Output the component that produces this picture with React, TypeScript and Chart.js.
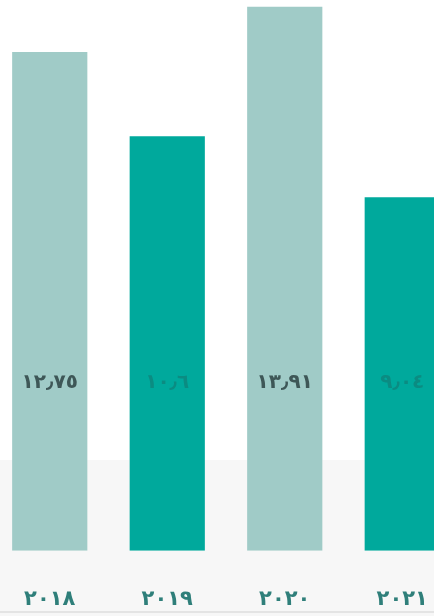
import React, { useEffect, useRef } from "react";
import { Chart, registerables } from "chart.js";

Chart.register(...registerables);

const categories = ["٢٠١٨", "٢٠١٩", "٢٠٢٠", "٢٠٢١"];
const values = [12.75, 10.6, 13.91, 9.04];
const valueLabels = ["١٢٫٧٥", "١٠٫٦", "١٣٫٩١", "٩٫٠٤"];
const barColors = ["#a0cbc7", "#00a99c", "#a0cbc7", "#00a99c"];
const labelColors = ["#3e5757", "#0b8c82", "#3e5757", "#0b8c82"];
const labelLevel = 4.3;

const valueLabelPlugin = {
  id: "valueLabels",
  afterDatasetsDraw(chart: any) {
    const ctx = chart.ctx;
    const meta = chart.getDatasetMeta(0);
    const yScale = chart.scales.y;
    ctx.save();
    ctx.font = "bold 20px 'DejaVu Sans', sans-serif";
    ctx.textAlign = "center";
    ctx.textBaseline = "middle";
    meta.data.forEach((bar: any, i: number) => {
      ctx.fillStyle = labelColors[i];
      ctx.fillText(valueLabels[i], bar.x, yScale.getPixelForValue(labelLevel));
    });
    ctx.restore();
  },
};

export default function App() {
  const ref = useRef<HTMLCanvasElement | null>(null);
  useEffect(() => {
    if (!ref.current) return;
    const chart = new Chart(ref.current, {
      type: "bar",
      data: {
        labels: categories,
        datasets: [
          {
            data: values,
            backgroundColor: barColors,
            borderWidth: 0,
            barPercentage: 0.8,
            categoryPercentage: 0.8,
          },
        ],
      },
      options: {
        animation: false,
        responsive: true,
        maintainAspectRatio: false,
        layout: { padding: 0 },
        plugins: { legend: { display: false }, tooltip: { enabled: false } },
        scales: {
          x: {
            grid: { display: false },
            border: { display: false },
            ticks: {
              color: "#2f7f7a",
              font: { size: 21, weight: "bold", family: "'DejaVu Sans', sans-serif" },
              padding: 28,
              maxRotation: 0,
              autoSkip: false,
            },
          },
          y: { display: false, min: 0, max: 14.08 },
        },
      },
      plugins: [valueLabelPlugin],
    });
    return () => chart.destroy();
  }, []);

  return (
    <div
      style={{
        position: "fixed",
        left: 0,
        top: 0,
        width: 434,
        height: 616,
        overflow: "hidden",
        background: "linear-gradient(#ffffff 0px, #ffffff 460px, #f7f7f7 460px, #f7f7f7 611px, #e4e4e4 611px, #e4e4e4 613px, #f7f7f7 613px)",
      }}
    >
      <div style={{ position: "absolute", left: -9, top: 0, width: 470, height: 640 }}>
        <canvas ref={ref} />
      </div>
    </div>
  );
}
